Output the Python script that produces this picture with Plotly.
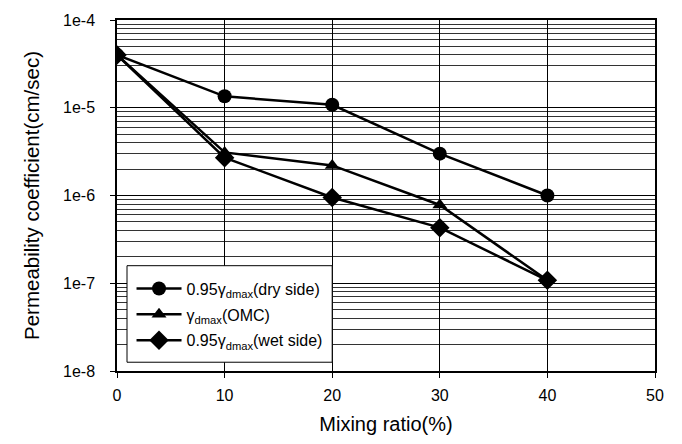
import plotly.graph_objects as go

mix = [0, 10, 20, 30, 40]
dry = [4.0e-5, 1.35e-5, 1.08e-5, 3.0e-6, 1.0e-6]
omc = [4.0e-5, 3.1e-6, 2.2e-6, 7.8e-7, 1.08e-7]
wet = [4.0e-5, 2.7e-6, 9.5e-7, 4.3e-7, 1.08e-7]

names = ["0.95γ<sub>dmax</sub>(dry side)", "γ<sub>dmax</sub>(OMC)", "0.95γ<sub>dmax</sub>(wet side)"]
symbols = ["circle", "triangle-up", "diamond"]
sizes = [14, 13, 15]

ytickvals = [1e-8, 1e-7, 1e-6, 1e-5, 1e-4]
yticktext = ["1e-8", "1e-7", "1e-6", "1e-5", "1e-4"]
xtickvals = [0, 10, 20, 30, 40, 50]

minor_vals = [m * d for d in ytickvals[:-1] for m in range(2, 10)]

fig = go.Figure()
for i, (ys, nm, sym, sz) in enumerate(zip([dry, omc, wet], names, symbols, sizes)):
    fig.add_trace(go.Scatter(
        x=mix, y=ys, name=nm, mode="lines+markers", legendgroup=f"g{i}",
        line=dict(color="black", width=2.5),
        marker=dict(symbol=sym, size=sz, color="black"),
    ))

# legend frame
fig.add_shape(type="rect", xref="paper", yref="paper",
              x0=0.0186, x1=0.4, y0=0.025, y1=0.30,
              line=dict(color="black", width=1), fillcolor="white", layer="above")

font = "Liberation Sans, Arial, sans-serif"
fig.update_layout(
    width=682, height=444,
    margin=dict(l=117, r=27, t=15, b=69),
    paper_bgcolor="white", plot_bgcolor="white",
    font=dict(family=font, size=16, color="black"),
    showlegend=True,
    legend=dict(
        x=0.027, y=0.283, xanchor="left", yanchor="top",
        bgcolor="rgba(0,0,0,0)", borderwidth=0,
        font=dict(size=16), itemwidth=45, tracegroupgap=2,
    ),
    xaxis=dict(
        range=[0, 50], tickvals=xtickvals, ticks="outside", ticklen=5,
        tickcolor="black", showline=True, linecolor="black", linewidth=1.5,
        mirror=True, showgrid=True, gridcolor="black", gridwidth=1,
        zeroline=False, ticklabelstandoff=4,
        title=dict(text="Mixing ratio(%)", font=dict(size=20), standoff=14),
    ),
    yaxis=dict(
        type="log", range=[-8, -4], tickvals=ytickvals, ticktext=yticktext,
        ticks="outside", ticklen=5, tickcolor="black", ticklabelstandoff=12,
        showline=True, linecolor="black", linewidth=1.5, mirror=True,
        showgrid=True, gridcolor="black", gridwidth=1,
        minor=dict(tickvals=minor_vals, showgrid=True, gridcolor="#333", gridwidth=0.8, ticks=""),
        zeroline=False,
        title=dict(text="Permeability coefficient(cm/sec)", font=dict(size=20.5), standoff=18),
    ),
)

fig.write_html("out.html")
